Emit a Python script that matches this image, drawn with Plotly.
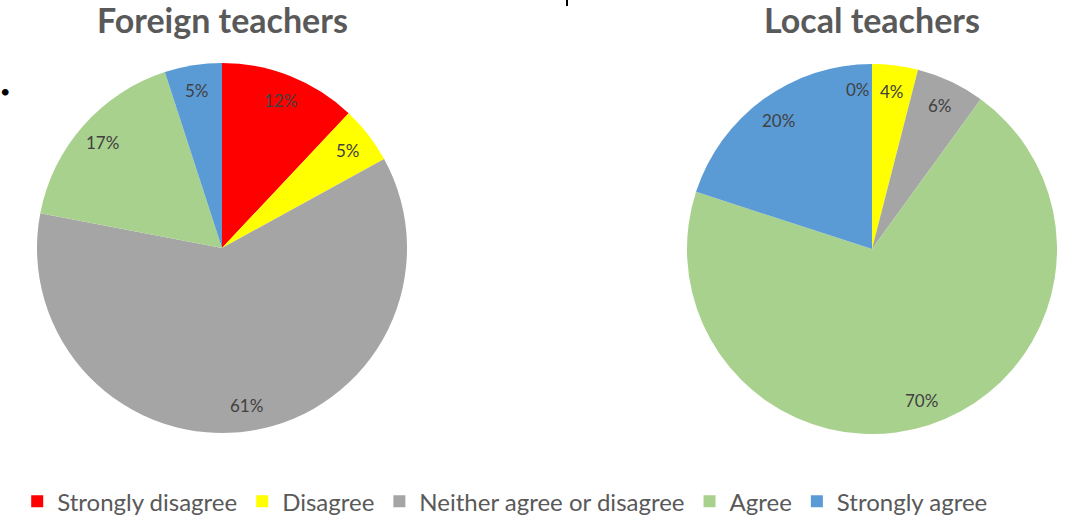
import math
import plotly.graph_objects as go

# Survey responses (percent of respondents)
categories = ["Strongly disagree", "Disagree", "Neither agree or disagree", "Agree", "Strongly agree"]
foreign_pct = [12, 5, 61, 17, 5]
local_pct = [0, 4, 6, 70, 20]
chart_titles = ["Foreign teachers", "Local teachers"]

colors = ["#FF0000", "#FFFF00", "#A5A5A5", "#A9D18E", "#5B9BD5"]

W, H = 1075, 521
R = 185                      # pie radius in px
centers = [(222, 248), (872, 249)]
LABEL_R = 0.86 * R           # radial position of the percentage labels
FONT = "Lato, 'Open Sans', sans-serif"

fig = go.Figure()
annotations = []

for i, (vals, title) in enumerate(zip([foreign_pct, local_pct], chart_titles)):
    cx, cy = centers[i]
    fig.add_trace(go.Pie(
        labels=categories,
        values=vals,
        sort=False,
        direction="clockwise",
        rotation=0,
        textinfo="none",
        hoverinfo="label+percent",
        marker=dict(colors=colors, line=dict(width=0)),
        domain=dict(x=[(cx - R) / W, (cx + R) / W],
                    y=[(H - cy - R) / H, (H - cy + R) / H]),
        showlegend=(i == 0),
    ))
    # percentage labels at the middle angle of each slice
    total = sum(vals)
    cum = 0
    for v in vals:
        theta = math.radians(360 * (cum + v / 2) / total)
        cum += v
        px = cx + LABEL_R * math.sin(theta)
        py = cy - LABEL_R * math.cos(theta)
        annotations.append(dict(
            x=px / W, y=1 - py / H, xref="paper", yref="paper",
            # an empty slice has no width, so its label sits just left of its edge
            xanchor="right" if v == 0 else "center", yanchor="middle",
            text=f"{v}%", showarrow=False,
            font=dict(family=FONT, size=17, color="#404040"),
        ))
    # chart title
    annotations.append(dict(
        x=cx / W, y=1 - 20 / H, xref="paper", yref="paper",
        xanchor="center", yanchor="middle",
        text=f"<b>{title}</b>", showarrow=False,
        font=dict(family=FONT, size=34, color="#595959"),
    ))

# stray bullet at the left edge
annotations.append(dict(
    x=5 / W, y=1 - 91 / H, xref="paper", yref="paper",
    xanchor="center", yanchor="middle",
    text="•", showarrow=False, font=dict(family=FONT, size=18, color="#000000"),
))

fig.update_layout(
    width=W, height=H,
    margin=dict(l=0, r=0, t=0, b=0, autoexpand=False),
    paper_bgcolor="white",
    plot_bgcolor="white",
    annotations=annotations,
    shapes=[dict(type="line", xref="paper", yref="paper",
                 x0=567 / W, x1=567 / W, y0=1, y1=1 - 6 / H,
                 line=dict(color="#000000", width=2))],
    legend=dict(
        orientation="h",
        x=0.016, xanchor="left",
        y=-0.006, yanchor="bottom",
        font=dict(family=FONT, size=24, color="#595959"),
        itemwidth=30,
        traceorder="normal",
    ),
)

fig.write_html("out.html")
